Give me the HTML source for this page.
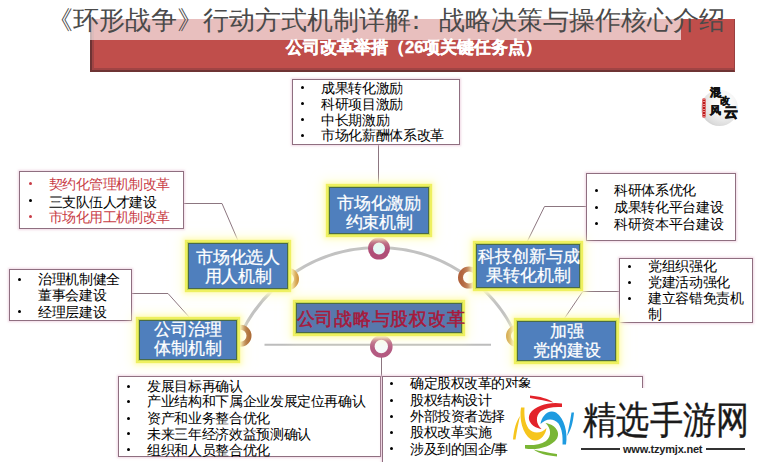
<!DOCTYPE html>
<html><head><meta charset="utf-8">
<style>
html,body{margin:0;padding:0;width:758px;height:462px;overflow:hidden;background:#fff;}
body{position:relative;font-family:"Liberation Sans",sans-serif;}
.a{position:absolute;}
.lst{position:absolute;box-sizing:border-box;border:1px solid #8f6f80;background:#fff;box-shadow:0 0 2px 1px rgba(230,190,210,0.6);}
.ln{position:absolute;white-space:nowrap;font-size:14px;letter-spacing:-0.35px;line-height:16px;color:#000;}
.bul{position:absolute;width:3px;height:3px;border-radius:50%;background:#000;}
.red{color:#c83c46;}
.bb{position:absolute;box-sizing:border-box;white-space:nowrap;background:#4f7fbd;border:1.5px solid #4a6a48;box-shadow:0 0 0 1px #c8d850,0 0 1px 3px #eef060,0 0 4px 5px #fffbc0,0 0 10px 7px rgba(255,255,200,0.6);color:#fff;font-size:17px;line-height:20px;text-align:center;-webkit-text-stroke:0.25px #fff;}
</style></head><body>

<svg class="a" style="left:0;top:0" width="758" height="462">
  <!-- arc -->
  <path d="M240.5 335 A152 152 0 0 1 516 335.3" fill="none" stroke="#c2c2c2" stroke-width="3"/>
  <line x1="264.5" y1="344.8" x2="491" y2="344.8" stroke="#bdbdbd" stroke-width="2"/>
  <!-- connectors -->
  <line x1="378.5" y1="145" x2="378.5" y2="186" stroke="#8c7680" stroke-width="1"/>
  <polyline points="183,203.5 222,203.5 239,243" fill="none" stroke="#8c7680" stroke-width="1"/>
  <polyline points="131,293.5 168,293.5 190,318" fill="none" stroke="#8c7680" stroke-width="1"/>
  <polyline points="586,206.5 544.5,206.5 527,242" fill="none" stroke="#8c7680" stroke-width="1"/>
  <polyline points="619,291.5 582.7,291.5 564.7,318" fill="none" stroke="#8c7680" stroke-width="1"/>
  <line x1="381.5" y1="355" x2="381.5" y2="377" stroke="#8c7680" stroke-width="1"/>
  <!-- circles -->
  <circle cx="379" cy="248.6" r="8.5" fill="#e6f8f8" stroke="#b04e78" stroke-width="5"/>
  <circle cx="381.3" cy="346.5" r="9" fill="#f6fafb" stroke="#b45a82" stroke-width="4.6"/>
  <circle cx="288" cy="279" r="8.5" fill="#fff" stroke="#c8842a" stroke-width="5"/>
  <circle cx="469" cy="277.6" r="8.5" fill="#fff" stroke="#b0603a" stroke-width="5"/>
  <circle cx="240.5" cy="335.7" r="8.5" fill="#fff" stroke="#a8642e" stroke-width="5"/>
  <circle cx="517" cy="336" r="8.5" fill="#fff" stroke="#d0a040" stroke-width="5"/>
</svg>

<!-- title overlay -->
<div class="a" style="left:90px;top:19px;width:645px;height:52.5px;background:#c04e4b;border-left:2px solid #6e3434;border-bottom:2px solid #6e3434;border-right:1px solid #9a4040;box-sizing:border-box;box-shadow:inset 2px -2px 0 #a04444;"></div>
<div class="a" style="left:0;top:0;width:681px;height:40px;background:rgba(255,255,255,0.64);"></div>
<div class="a" id="title" style="left:47px;top:3px;font-size:26px;line-height:34px;color:#4a4a4a;white-space:nowrap;text-spacing-trim:space-all;">《环形战争》行动方式机制详解<span style="position:relative;left:-8px">：</span><span style="position:relative;left:1.5px">战略决策与操作核心介绍</span></div>
<div class="a" style="left:286px;top:37px;font-size:16.6px;line-height:22px;color:#fff;font-weight:bold;-webkit-text-stroke:0.4px #fff;white-space:nowrap;">公司改革举措（26项关键任务点）</div>

<!-- top list -->
<div class="lst" style="left:292px;top:79px;width:168px;height:66px;"></div>
<div class="bul" style="left:301px;top:86px"></div><div class="ln" style="left:321px;top:80px">成果转化激励</div>
<div class="bul" style="left:301px;top:102px"></div><div class="ln" style="left:321px;top:96px">科研项目激励</div>
<div class="bul" style="left:301px;top:118px"></div><div class="ln" style="left:321px;top:111.5px">中长期激励</div>
<div class="bul" style="left:301px;top:134px"></div><div class="ln" style="left:321px;top:127px">市场化薪酬体系改革</div>

<!-- left list 1 -->
<div class="lst" style="left:19px;top:171px;width:165px;height:58px;"></div>
<div class="bul" style="left:29px;top:182px;background:#c83c46"></div><div class="ln red" style="left:49px;top:176px;letter-spacing:-0.6px">契约化管理机制改革</div>
<div class="bul" style="left:29px;top:199px"></div><div class="ln" style="left:49px;top:193.5px;letter-spacing:-0.6px">三支队伍人才建设</div>
<div class="bul" style="left:29px;top:215px;background:#c83c46"></div><div class="ln red" style="left:49px;top:209px;letter-spacing:-0.6px">市场化用工机制改革</div>

<!-- left list 2 -->
<div class="lst" style="left:9px;top:269px;width:123px;height:52px;"></div>
<div class="bul" style="left:18px;top:277.5px"></div><div class="ln" style="left:38px;top:270.5px">治理机制健全</div>
<div class="ln" style="left:38px;top:287px">董事会建设</div>
<div class="bul" style="left:18px;top:310px"></div><div class="ln" style="left:38px;top:304px">经理层建设</div>

<!-- right list 1 -->
<div class="lst" style="left:586px;top:173px;width:150px;height:67.5px;"></div>
<div class="bul" style="left:595px;top:189px"></div><div class="ln" style="left:614px;top:182px">科研体系优化</div>
<div class="bul" style="left:595px;top:206px"></div><div class="ln" style="left:614px;top:199px">成果转化平台建设</div>
<div class="bul" style="left:595px;top:222px"></div><div class="ln" style="left:614px;top:216px">科研资本平台建设</div>

<!-- right list 2 -->
<div class="lst" style="left:619px;top:258px;width:134px;height:65px;"></div>
<div class="bul" style="left:628px;top:265px"></div><div class="ln" style="left:648px;top:258px">党组织强化</div>
<div class="bul" style="left:628px;top:280.5px"></div><div class="ln" style="left:648px;top:274px">党建活动强化</div>
<div class="bul" style="left:628px;top:296.5px"></div><div class="ln" style="left:648px;top:290px">建立容错免责机</div>
<div class="ln" style="left:648px;top:306px">制</div>

<!-- bottom left list -->
<div class="lst" style="left:118px;top:376px;width:263px;height:81px;"></div>
<div class="bul" style="left:127px;top:385px"></div><div class="ln" style="left:147px;top:378px">发展目标再确认</div>
<div class="bul" style="left:127px;top:400px"></div><div class="ln" style="left:147px;top:393px">产业结构和下属企业发展定位再确认</div>
<div class="bul" style="left:127px;top:417px"></div><div class="ln" style="left:147px;top:410px">资产和业务整合优化</div>
<div class="bul" style="left:127px;top:432px"></div><div class="ln" style="left:147px;top:426px">未来三年经济效益预测确认</div>
<div class="bul" style="left:127px;top:448px"></div><div class="ln" style="left:147px;top:442px">组织和人员整合优化</div>

<!-- bottom right list -->
<div class="lst" style="left:382px;top:376px;width:261px;height:90px;"></div>
<div class="bul" style="left:390px;top:382px"></div><div class="ln" style="left:410px;top:375px;letter-spacing:-0.5px">确定股权改革的对象</div>
<div class="bul" style="left:390px;top:398.5px"></div><div class="ln" style="left:410px;top:392px;letter-spacing:-0.5px">股权结构设计</div>
<div class="bul" style="left:390px;top:414.5px"></div><div class="ln" style="left:410px;top:408px;letter-spacing:-0.5px">外部投资者选择</div>
<div class="bul" style="left:390px;top:430.5px"></div><div class="ln" style="left:410px;top:424px;letter-spacing:-0.5px">股权改革实施</div>
<div class="bul" style="left:390px;top:446.5px"></div><div class="ln" style="left:410px;top:440.5px;letter-spacing:-0.5px">涉及到的国企/事业单位</div>

<!-- blue boxes -->
<div class="bb" style="left:329px;top:187px;width:100px;height:47px;padding-top:5.5px;line-height:19px;letter-spacing:-0.35px;">市场化激励<br>约束机制</div>
<div class="bb" style="left:188px;top:243px;width:100px;height:46px;padding-top:4px;line-height:19px;letter-spacing:-0.35px;">市场化选人<br>用人机制</div>
<div class="bb" style="left:139px;top:320px;width:98px;height:40px;padding-top:0px;line-height:19px;"><div style="position:relative;top:-1px">公司治理<br>体制机制</div></div>
<div class="bb" style="left:476px;top:244px;width:104px;height:44px;padding-top:2px;padding-left:1px;line-height:19px;">科技创新与成<br>果转化机制</div>
<div class="bb" style="left:517px;top:321px;width:99px;height:40px;padding-top:0px;line-height:19px;"><div style="position:relative;top:-0.5px">加强<br>党的建设</div></div>
<div class="bb" style="left:295.5px;top:302.5px;width:166px;height:30px;line-height:31px;font-size:18px;letter-spacing:0.75px;padding-right:3px;color:#a8183a;background:#5878ac;-webkit-text-stroke:0.5px #a8183a;">公司战略与股权改革</div>

<!-- seal logo -->
<div class="a" style="left:701px;top:90px;width:37px;height:36px;border-radius:50%;background:radial-gradient(circle at 62% 36%,#ffffff 0%,#f6f6f6 35%,#dcdcdc 70%,#b8b8b8 92%,#d8d8d8 100%);"></div>
<div class="a" style="left:702px;top:98px;width:4px;height:20px;border-radius:2px;background:#e07070;"></div>
<div class="a" style="left:703px;top:100px;width:2px;height:16px;background:repeating-linear-gradient(#b81c1c 0 1.5px,#e89090 1.5px 2.5px);"></div>
<div class="a" style="left:710px;top:87px;font-family:'Liberation Serif',serif;font-size:11px;line-height:11px;font-weight:bold;color:#111;-webkit-text-stroke:0.6px #111;">混</div>
<div class="a" style="left:719.5px;top:96px;font-family:'Liberation Serif',serif;font-size:10px;line-height:10px;font-weight:bold;color:#111;-webkit-text-stroke:0.4px #111;">改</div>
<div class="a" style="left:710px;top:105px;font-family:'Liberation Serif',serif;font-size:11px;line-height:11px;font-weight:bold;color:#111;-webkit-text-stroke:0.5px #111;">风</div>
<div class="a" style="left:724px;top:106px;font-family:'Liberation Serif',serif;font-size:14px;line-height:14px;font-weight:bold;color:#111;-webkit-text-stroke:0.7px #111;">云</div>

<!-- watermark -->
<div class="a" style="left:508px;top:388px;width:250px;height:74px;background:#fff;"></div>
<svg class="a" style="left:511px;top:394px" width="64" height="64" viewBox="-32 -32 64 64"><g transform="translate(0.5,0)"><g fill="#e3232a" transform="rotate(0)"><path d="M18.5,-22.5 C7,-24.5 -8,-21 -13.5,-12.5 C-17.5,-5 -10,2 -2,3 C-7.5,-2 -8.5,-10 -2.5,-15 C3,-18.5 10,-19.5 18.5,-19 Z"/><path d="M-13.5,-30.5 C-3,-29.5 4,-27.5 10,-23.5 C3,-25 -4,-26.5 -13.5,-28 Z"/></g><g fill="#1e9be0" transform="rotate(90)"><path d="M18.5,-22.5 C7,-24.5 -8,-21 -13.5,-12.5 C-17.5,-5 -10,2 -2,3 C-7.5,-2 -8.5,-10 -2.5,-15 C3,-18.5 10,-19.5 18.5,-19 Z"/><path d="M-13.5,-30.5 C-3,-29.5 4,-27.5 10,-23.5 C3,-25 -4,-26.5 -13.5,-28 Z"/></g><g fill="#7ab635" transform="rotate(180)"><path d="M18.5,-22.5 C7,-24.5 -8,-21 -13.5,-12.5 C-17.5,-5 -10,2 -2,3 C-7.5,-2 -8.5,-10 -2.5,-15 C3,-18.5 10,-19.5 18.5,-19 Z"/><path d="M-13.5,-30.5 C-3,-29.5 4,-27.5 10,-23.5 C3,-25 -4,-26.5 -13.5,-28 Z"/></g><g fill="#f6c51d" transform="rotate(270)"><path d="M18.5,-22.5 C7,-24.5 -8,-21 -13.5,-12.5 C-17.5,-5 -10,2 -2,3 C-7.5,-2 -8.5,-10 -2.5,-15 C3,-18.5 10,-19.5 18.5,-19 Z"/><path d="M-13.5,-30.5 C-3,-29.5 4,-27.5 10,-23.5 C3,-25 -4,-26.5 -13.5,-28 Z"/></g></g></svg>
<div class="a" id="wm" style="left:583px;top:395px;font-size:38px;line-height:50px;color:#1a1a1a;white-space:nowrap;transform:scaleX(0.875);transform-origin:0 0;-webkit-text-stroke:0.35px #1a1a1a;">精选手游网</div>
<div class="a" style="left:581px;top:448px;width:39px;height:2px;background:#333;"></div>
<div class="a" style="left:706px;top:448px;width:39px;height:2px;background:#333;"></div>
<div class="a" style="left:623px;top:441px;font-size:11px;line-height:16px;color:#222;white-space:nowrap;font-weight:bold;letter-spacing:-0.2px;">www.tzymjx.net</div>

</body></html>
